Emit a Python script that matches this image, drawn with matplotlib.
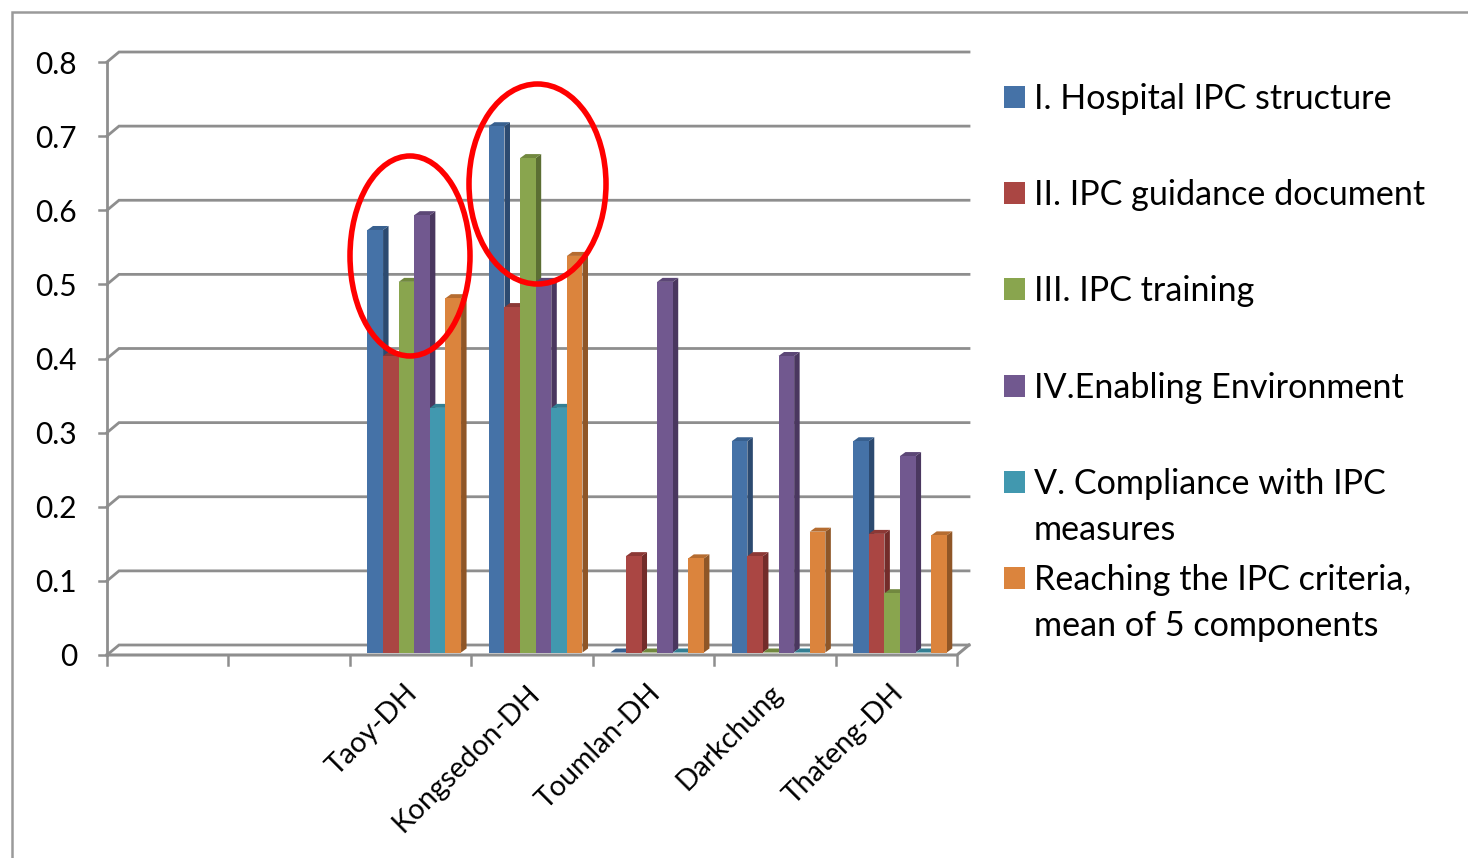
# 3D-style clustered bars of IPC component scores per district hospital
import matplotlib
matplotlib.use("Agg")
import matplotlib.pyplot as plt
from matplotlib.patches import Ellipse, Polygon, Rectangle

hospitals = ["", "", "Taoy-DH", "Kongsedon-DH", "Toumlan-DH", "Darkchung", "Thateng-DH"]
y_ticks = [0, 0.1, 0.2, 0.3, 0.4, 0.5, 0.6, 0.7, 0.8]
y_tick_labels = ["0", "0.1", "0.2", "0.3", "0.4", "0.5", "0.6", "0.7", "0.8"]

hospital_ipc_structure = [0, 0, 0.57, 0.71, 0, 0.285, 0.285]
guidance_document = [0, 0, 0.40, 0.466, 0.13, 0.13, 0.16]
ipc_training = [0, 0, 0.50, 0.667, 0, 0, 0.08]
enabling_environment = [0, 0, 0.59, 0.50, 0.50, 0.40, 0.265]
compliance = [0, 0, 0.33, 0.33, 0, 0, 0]
ipc_criteria_mean = [0, 0, 0.478, 0.535, 0.127, 0.163, 0.158]

series = [hospital_ipc_structure, guidance_document, ipc_training,
          enabling_environment, compliance, ipc_criteria_mean]
legend_labels = ["I. Hospital IPC structure", "II. IPC guidance document",
                 "III. IPC training", "IV.Enabling Environment",
                 "V. Compliance with IPC\nmeasures",
                 "Reaching the IPC criteria,\nmean of 5 components"]
front_colors = ["#4572A7", "#AA4643", "#89A54E", "#71588F", "#4198AF", "#DB843D"]
side_colors = ["#2C4A70", "#732C2A", "#5B6E33", "#4A375F", "#2A6678", "#8F5627"]
top_colors = ["#38608F", "#8C3835", "#71883F", "#5C4776", "#327F93", "#B56C30"]

W, H = 1468, 858
GRID = "#8E8E8E"
plt.rcParams["font.family"] = ["Lato", "DejaVu Sans"]

fig = plt.figure(figsize=(W / 100, H / 100), dpi=100)

# overlay in pixel coordinates for the frame, legend and circles
over = fig.add_axes([0, 0, 1, 1], zorder=5)
over.set_xlim(0, W)
over.set_ylim(H, 0)
over.axis("off")
over.patch.set_alpha(0)

ax = fig.add_axes([107 / W, 1 - 655 / H, 850 / W, 593 / H], zorder=2)
ax.set_xlim(0, len(hospitals))
ax.set_ylim(0, 0.8)
ax.axis("off")

px_x = len(hospitals) / 850
px_y = 0.8 / 593

# back wall, floor and axes
wall_x, wall_y = 12 * px_x, 10 * px_y
right = len(hospitals)
for v in y_ticks:
    ax.plot([0, wall_x, right + wall_x], [v, v + wall_y, v + wall_y],
            color=GRID, lw=2, clip_on=False, zorder=1, solid_joinstyle="miter")
    ax.plot([-8 * px_x, 0], [v, v], color=GRID, lw=1.8, clip_on=False, zorder=1)
ax.plot([0, 0], [0, 0.8], color=GRID, lw=2, clip_on=False, zorder=1)
ax.plot([0, right, right + wall_x], [0, 0, wall_y], color=GRID, lw=2.2,
        clip_on=False, zorder=1)
for i in range(len(hospitals) + 1):
    ax.plot([i, i], [0, -10 * px_y], color=GRID, lw=1.8, clip_on=False, zorder=1)

for v, lab in zip(y_ticks, y_tick_labels):
    ax.text(-30 * px_x, v - 2.5 * px_y, lab, ha="right", va="center",
            fontsize=21.5, color="black")

for i, name in enumerate(hospitals):
    ax.text(i + 0.45, -25 * px_y, name, rotation=45, rotation_mode="anchor",
            ha="right", va="top", fontsize=20.5, color="black")

# bars: front face plus darker side and top faces
bar_w = 15.6 * px_x
depth_x, depth_y = 5.5 * px_x, 4 * px_y
base = 2.5 * px_y
z = 3
for i in range(len(hospitals)):
    if not hospitals[i]:
        continue
    start = i + 0.145
    for j, vals in enumerate(series):
        v = vals[i]
        x0 = start + j * bar_w
        x1 = x0 + bar_w
        top = base + v
        ax.add_patch(Polygon([(x1, base), (x1 + depth_x, base + depth_y),
                              (x1 + depth_x, top + depth_y), (x1, top)],
                             closed=True, fc=side_colors[j], ec="none", zorder=z, clip_on=False))
        ax.add_patch(Polygon([(x0, top), (x0 + depth_x, top + depth_y),
                              (x1 + depth_x, top + depth_y), (x1, top)],
                             closed=True, fc=top_colors[j], ec="none", zorder=z, clip_on=False))
        if v > 0:
            ax.bar(x0, v, width=bar_w, bottom=base, align="edge", color=front_colors[j],
                   edgecolor="none", zorder=z + 0.5, clip_on=False)
        z += 1

# outer frame
over.plot([W, 12, 12], [12, 12, H], color="#9A9A9A", lw=1.8, solid_joinstyle="miter")

# legend
legend_y = [97, 193, 289, 386, 482, 578]
for y, lab, col in zip(legend_y, legend_labels, front_colors):
    over.add_patch(Rectangle((1004, y - 11), 21, 22, fc=col, ec="none"))
    over.text(1034, y - 14, lab, ha="left", va="top", fontsize=24.6,
              color="black", linespacing=1.52)

# highlighted hospitals
over.add_patch(Ellipse((410, 256), 120, 200, fc="none", ec="#FF0000", lw=4, zorder=10))
over.add_patch(Ellipse((537.5, 184), 137, 200, fc="none", ec="#FF0000", lw=4, zorder=10))

fig.savefig("out.png", dpi=100, facecolor="white")
